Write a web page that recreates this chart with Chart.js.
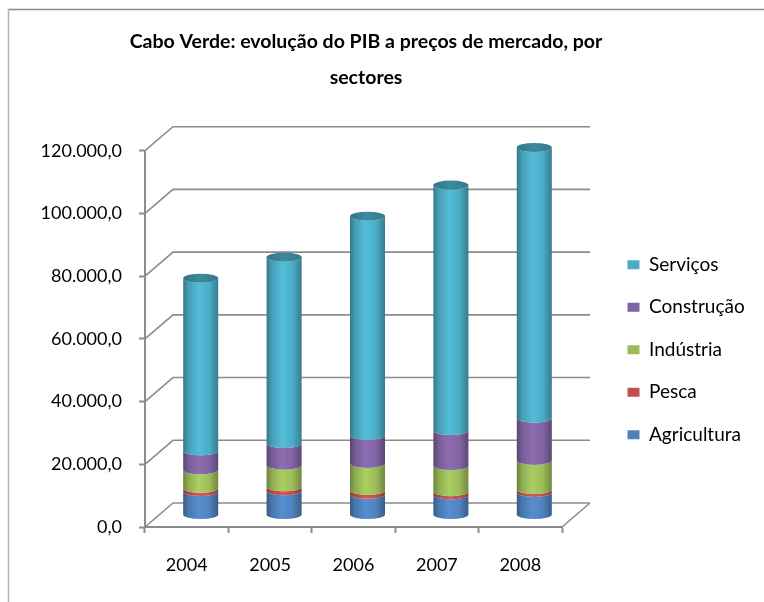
<!DOCTYPE html>
<html>
<head>
<meta charset="utf-8">
<title>Cabo Verde: evolução do PIB</title>
<script src="https://cdn.jsdelivr.net/npm/chart.js@4.4.1/dist/chart.umd.min.js"></script>
<style>
	html, body { margin: 0; padding: 0; background: #fff; }
	#wrap { width: 764px; height: 602px; }
</style>
</head>
<body>
<div id="wrap"><canvas id="pibChart" width="764" height="602"></canvas></div>
<script>
"use strict";

// values (stacked, bottom to top)
const years = ['2004', '2005', '2006', '2007', '2008'];
const agricultura = [7500, 7750, 6600, 6400, 7200];
const pesca = [1000, 1250, 1250, 1050, 900];
const industria = [5900, 6900, 8600, 8300, 9300];
const construcao = [6100, 6900, 9000, 11200, 13500];
const servicos = [55000, 59400, 69850, 78250, 86300];
const yTickLabels = ['0,0', '20.000,0', '40.000,0', '60.000,0', '80.000,0', '100.000,0', '120.000,0'];

const series = [
	{ label: 'Agricultura', data: agricultura, color: '#4F81BD' },
	{ label: 'Pesca', data: pesca, color: '#C0504D' },
	{ label: 'Indústria', data: industria, color: '#9BBB59' },
	{ label: 'Construção', data: construcao, color: '#8064A2' },
	{ label: 'Serviços', data: servicos, color: '#4BACC6' }
];

const DX = 28;   // depth of the 3d box
const DY = -24;
const RY = 4.5;  // half height of the cylinder ellipses
const WALL = '#8c8c8c';

function shade(hex, f) {
	const n = parseInt(hex.slice(1), 16);
	const c = [(n >> 16) & 255, (n >> 8) & 255, n & 255].map(v => Math.max(0, Math.min(255, Math.round(v * f))));
	return `rgb(${c[0]},${c[1]},${c[2]})`;
}

function cylinderPath(ctx, cx, rx, yTop, yBot) {
	ctx.beginPath();
	ctx.moveTo(cx - rx, yTop);
	ctx.lineTo(cx - rx, yBot);
	ctx.ellipse(cx, yBot, rx, RY, 0, Math.PI, 0, true);
	ctx.lineTo(cx + rx, yTop);
	ctx.ellipse(cx, yTop, rx, RY, 0, 0, Math.PI, false);
	ctx.closePath();
}

function bodyGradient(ctx, cx, rx, color) {
	const g = ctx.createLinearGradient(cx - rx, 0, cx + rx, 0);
	g.addColorStop(0, shade(color, 0.7));
	g.addColorStop(0.15, shade(color, 0.92));
	g.addColorStop(0.45, shade(color, 1.1));
	g.addColorStop(0.75, shade(color, 1.0));
	g.addColorStop(1, shade(color, 0.72));
	return g;
}

const box3d = {
	id: 'box3d',
	beforeDraw(chart) {
		const ctx = chart.ctx;
		ctx.save();
		ctx.fillStyle = '#fff';
		ctx.fillRect(0, 0, chart.width, chart.height);
		// frame of the chart object
		ctx.lineWidth = 1.5;
		ctx.strokeStyle = '#8a8a8a';
		ctx.beginPath();
		ctx.moveTo(8, 9.5);
		ctx.lineTo(chart.width, 9.5);
		ctx.stroke();
		ctx.strokeStyle = '#b5b5b5';
		ctx.beginPath();
		ctx.moveTo(8.5, 9);
		ctx.lineTo(8.5, chart.height);
		ctx.stroke();
		ctx.restore();
	},
	beforeDatasetsDraw(chart) {
		const { ctx, chartArea: a, scales: { y } } = chart;
		ctx.save();
		ctx.strokeStyle = WALL;
		ctx.lineWidth = 1.6;
		ctx.beginPath();
		y.ticks.forEach(t => {
			const py = y.getPixelForValue(t.value);
			ctx.moveTo(a.left, py);
			ctx.lineTo(a.left + DX, py + DY);
			ctx.lineTo(a.right + DX, py + DY);
		});
		ctx.moveTo(a.right, a.bottom);
		ctx.lineTo(a.right + DX, a.bottom + DY);
		ctx.stroke();
		ctx.restore();
	},
	beforeDatasetDraw() {
		return false; // flat bars are replaced by cylinders below
	},
	afterDatasetsDraw(chart) {
		const ctx = chart.ctx;
		const metas = chart.data.datasets.map((d, i) => chart.getDatasetMeta(i));
		ctx.save();
		years.forEach((yr, i) => {
			let topY = null, cx = 0, rx = 0;
			metas.forEach((meta, k) => {
				const el = meta.data[i];
				const p = el.getProps(['x', 'y', 'base', 'width'], true);
				cx = p.x + DX / 2;
				rx = p.width / 2;
				const yTop = p.y + DY / 2;
				const yBot = p.base + DY / 2;
				cylinderPath(ctx, cx, rx, yTop, yBot);
				ctx.fillStyle = bodyGradient(ctx, cx, rx, series[k].color);
				ctx.fill();
				topY = yTop;
			});
			// cap of the top segment
			const capColor = series[series.length - 1].color;
			const g = ctx.createLinearGradient(cx - rx, 0, cx + rx, 0);
			g.addColorStop(0, shade(capColor, 0.68));
			g.addColorStop(0.5, shade(capColor, 0.8));
			g.addColorStop(1, shade(capColor, 0.7));
			ctx.beginPath();
			ctx.ellipse(cx, topY, rx, RY, 0, 0, Math.PI * 2);
			ctx.fillStyle = g;
			ctx.fill();
		});
		ctx.restore();
	}
};

Chart.defaults.font.family = 'Lato, sans-serif';
Chart.defaults.color = '#000';

const chart = new Chart(document.getElementById('pibChart'), {
	type: 'bar',
	data: {
		labels: years,
		datasets: series.map(s => ({
			label: s.label,
			data: s.data,
			backgroundColor: s.color,
			borderWidth: 0,
			categoryPercentage: 1,
			barPercentage: 0.42
		}))
	},
	options: {
		responsive: false,
		animation: false,
		// negative left padding only moves the title centre, the axis width below makes up for it
		layout: { padding: { top: 0, left: -18, right: 14, bottom: 0 } },
		plugins: {
			title: {
				display: true,
				text: ['Cabo Verde: evolução do PIB a preços de mercado, por', 'sectores'],
				font: { size: 19.5, weight: 'bold', lineHeight: 36 / 19.5 },
				color: '#000',
				padding: { top: 24, bottom: 54.7 }
			},
			legend: {
				position: 'right',
				fullSize: false,
				reverse: true,
				maxWidth: 146,
				title: { display: true, text: '', font: { size: 10, lineHeight: 1 }, padding: { top: 6, bottom: 6 } },
				labels: {
					font: { size: 19 },
					boxWidth: 12,
					boxHeight: 9,
					padding: 23.5,
					color: '#000'
				}
			},
			tooltip: { enabled: false }
		},
		scales: {
			x: {
				stacked: true,
				grid: { display: true, drawOnChartArea: false, drawTicks: true, tickLength: 6, tickColor: WALL, tickWidth: 2 },
				border: { display: true, color: WALL, width: 2 },
				ticks: { font: { size: 18 }, padding: 21 },
				afterFit(scale) { scale.height = 75; }
			},
			y: {
				stacked: true,
				min: 0,
				max: 120000,
				grid: { display: true, drawOnChartArea: false, drawTicks: true, tickLength: 6, tickColor: WALL, tickWidth: 2 },
				border: { display: true, color: WALL, width: 2 },
				ticks: {
					stepSize: 20000,
					font: { size: 18 },
					padding: 17,
					callback: (v, i) => yTickLabels[i]
				},
				afterFit(scale) { scale.width = 163; }
			},
			gap: {
				// empty axis that keeps the legend away from the 3d box
				type: 'linear',
				position: 'right',
				display: true,
				ticks: { display: false },
				grid: { display: false },
				border: { display: false },
				afterFit(scale) { scale.width = 42; }
			}
		}
	},
	plugins: [box3d]
});
</script>
</body>
</html>
